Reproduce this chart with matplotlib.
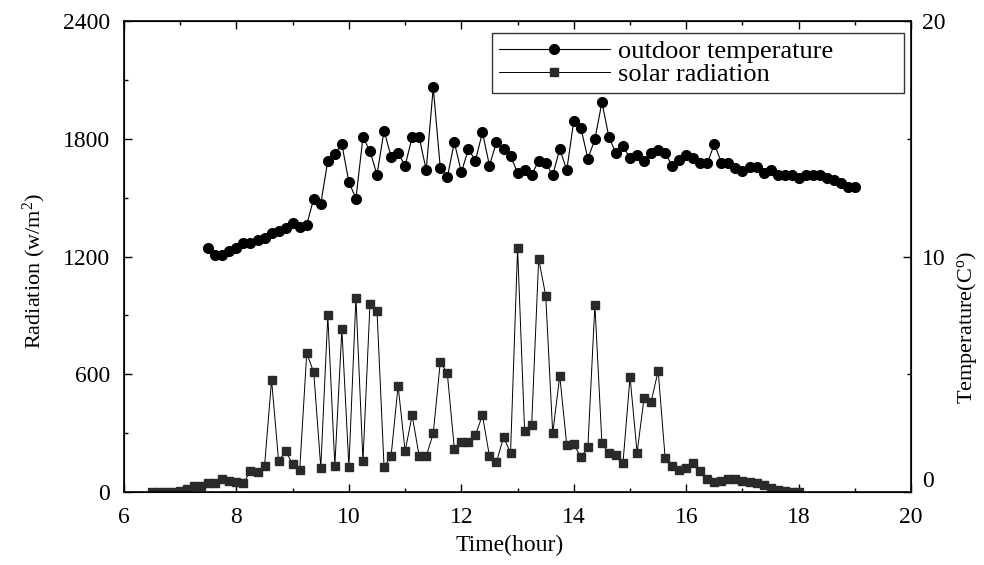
import numpy as np
import matplotlib
matplotlib.use("Agg")
import matplotlib.pyplot as plt
from matplotlib.ticker import MultipleLocator

plt.rcParams['font.family'] = ['Liberation Serif', 'DejaVu Serif']
plt.rcParams['mathtext.fontset'] = 'custom'
plt.rcParams['mathtext.rm'] = 'Liberation Serif'
plt.rcParams['mathtext.it'] = 'Liberation Serif:italic'

# logging interval 7.5 min
temp_start, rad_start, step = 7.5, 6.5, 0.125

temperature = [10.37, 10.06, 10.06, 10.25, 10.37, 10.56, 10.56, 10.70, 10.80, 10.98, 11.08, 11.19, 11.41, 11.27, 11.35,
               12.46, 12.24, 14.07, 14.37, 14.76, 13.16, 12.46, 15.06, 14.47, 13.47, 15.34, 14.24, 14.38, 13.86, 15.06,
               15.06, 13.67, 17.18, 13.77, 13.36, 14.85, 13.57, 14.56, 14.07, 15.27, 13.86, 14.86, 14.56, 14.25, 13.56,
               13.67, 13.46, 14.07, 13.96, 13.46, 14.56, 13.67, 15.77, 15.47, 14.15, 14.98, 16.55, 15.06, 14.38, 14.69,
               14.17, 14.31, 14.06, 14.41, 14.52, 14.38, 13.86, 14.10, 14.31, 14.17, 13.96, 13.96, 14.78, 13.98, 13.96,
               13.74, 13.64, 13.79, 13.79, 13.56, 13.67, 13.46, 13.46, 13.46, 13.35, 13.47, 13.47, 13.47, 13.35, 13.25,
               13.14, 12.97, 12.97]

radiation = [0, 0, 0, 0, 5, 18, 30, 30, 44, 48, 65, 55, 50,
             44, 110, 104, 134, 571, 158, 209, 143, 112, 707, 610, 124, 900, 134, 829, 129, 990, 158, 960, 922,
             129, 183, 542, 209, 391, 183, 183, 299, 662, 606, 221, 255, 255, 290, 391, 183, 154, 280, 200, 1243,
             311, 340, 1187, 1001, 299, 593, 238, 245, 177, 229, 955, 248, 197, 189, 150,
             588, 200, 481, 460, 618, 172, 132, 112, 121, 146, 109, 65, 53, 55, 65, 65, 58, 50, 44, 36, 19, 10, 5, 2, 0]

t_temp = temp_start + step * np.arange(len(temperature))
t_rad = rad_start + step * np.arange(len(radiation))

fig = plt.figure(figsize=(9.84, 5.65), dpi=100)
ax = fig.add_axes([0.126, 0.129, 0.800, 0.834])
ax2 = ax.twinx()

l2, = ax.plot(t_rad, radiation, '-', color='black', lw=0.7, marker='s', ms=5.5,
              mfc='#2a2a2a', mec='#2a2a2a', label='solar radiation')
l1, = ax2.plot(t_temp, temperature, '-', color='black', lw=0.8, marker='o', ms=7,
               mfc='black', mec='black', label='outdoor temperature')

ax.set_xlim(6, 20)
ax.set_ylim(0, 2400)
ax2.set_ylim(0, 20)
ax.xaxis.set_major_locator(MultipleLocator(2))
ax.xaxis.set_minor_locator(MultipleLocator(1))
ax.yaxis.set_major_locator(MultipleLocator(600))
ax.yaxis.set_minor_locator(MultipleLocator(300))
ax2.yaxis.set_major_locator(MultipleLocator(10))
ax2.yaxis.set_minor_locator(MultipleLocator(5))

ax.tick_params(which='both', direction='in', top=True, right=False, labelsize=17, width=1)
ax.tick_params(which='major', length=6)
ax.tick_params(which='minor', length=3)
ax.tick_params(axis='y', pad=10)
ax.tick_params(axis='x', pad=11)
ax2.tick_params(which='both', direction='in', labelsize=17, width=1, pad=8)
ax2.tick_params(which='major', length=6)
ax2.tick_params(which='minor', length=3)
for sp in ax.spines.values():
    sp.set_linewidth(1.2)

ax.set_xlabel('Time(hour)', fontsize=17)
ax.xaxis.set_label_coords(0.49, -0.09)
ax.set_ylabel('Radiation (w/m$^{\\mathrm{2}}$)', fontsize=16)
ax.yaxis.set_label_coords(-0.096, 0.47)
ax2.set_ylabel('Temperature(C$^{\\mathrm{o}}$)', fontsize=16)
ax2.yaxis.set_label_coords(1.056, 0.35)

# the right-hand 0 sits above its tick in the original
fig.canvas.draw()
for lab in ax2.get_yticklabels():
    if lab.get_text() == '0':
        lab.set_va('bottom')

leg = ax2.legend(handles=[l1, l2], loc='upper left', bbox_to_anchor=(0.468, 0.86, 0.523, 0.115),
                 mode='expand', borderaxespad=0, fontsize=19, frameon=True, fancybox=False,
                 edgecolor='black', handlelength=4.2, handletextpad=0.3,
                 labelspacing=0.0, borderpad=0.25)
leg.get_frame().set_linewidth(1.0)

fig.savefig('out.png', dpi=100)
